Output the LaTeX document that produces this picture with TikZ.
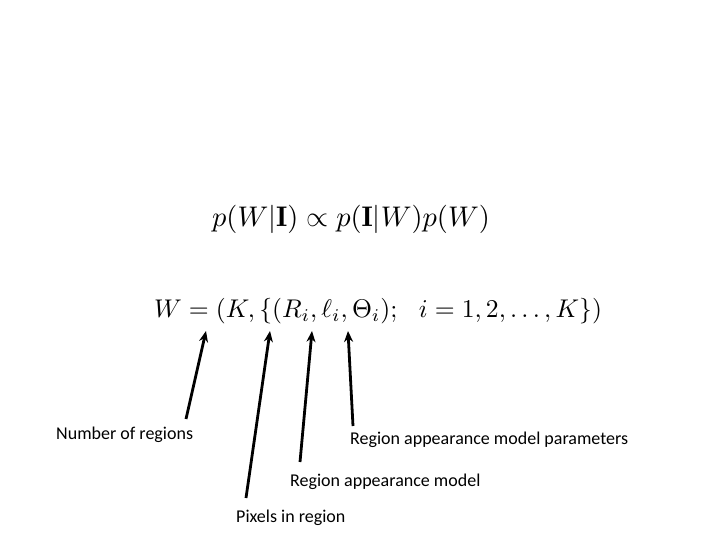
\documentclass[tikz,border=0pt]{standalone}
\usepackage{amsmath, amssymb}
\usepackage{fontspec}
\newfontfamily\lblfont{Carlito}
\usetikzlibrary{arrows.meta}

\begin{document}
\begin{tikzpicture}[x=1pt, y=-1pt,
  every node/.style={inner sep=0pt},
  lbl/.style={anchor=west, font=\lblfont\fontsize{18}{21}\selectfont},
  pointer/.style={line width=2.8pt, -{Stealth[length=11pt, width=9pt]}}]
  \useasboundingbox (0,0) rectangle (720,540);
  % equations
  \node[scale=2.84] (eqpost) at (351,219) {$p(W|\mathbf{I}) \propto p(\mathbf{I}|W)p(W)$};
  \node[scale=2.56] (eqW) at (378,311) {$W = (K,\{(R_i,\ell_i,\Theta_i);\ \ i=1,2,\ldots,K\})$};
  % labels
  \node[lbl] (lblnum) at (56,435) {Number of regions};
  \node[lbl] (lblparams) at (350,440) {Region appearance model parameters};
  \node[lbl] (lblmodel) at (290,482) {Region appearance model};
  \node[lbl] (lblpix) at (236,518) {Pixels in region};
  % arrow ends
  \coordinate (numtail) at (186,419);
  \coordinate (numtip) at (206,331);
  \coordinate (pixtail) at (246,498);
  \coordinate (pixtip) at (270,331);
  \coordinate (modeltail) at (300,462);
  \coordinate (modeltip) at (312,331);
  \coordinate (paramtail) at (353,426);
  \coordinate (paramtip) at (348,331);
  \draw[pointer] (numtail) -- (numtip);
  \draw[pointer] (pixtail) -- (pixtip);
  \draw[pointer] (modeltail) -- (modeltip);
  \draw[pointer] (paramtail) -- (paramtip);
\end{tikzpicture}
\end{document}
